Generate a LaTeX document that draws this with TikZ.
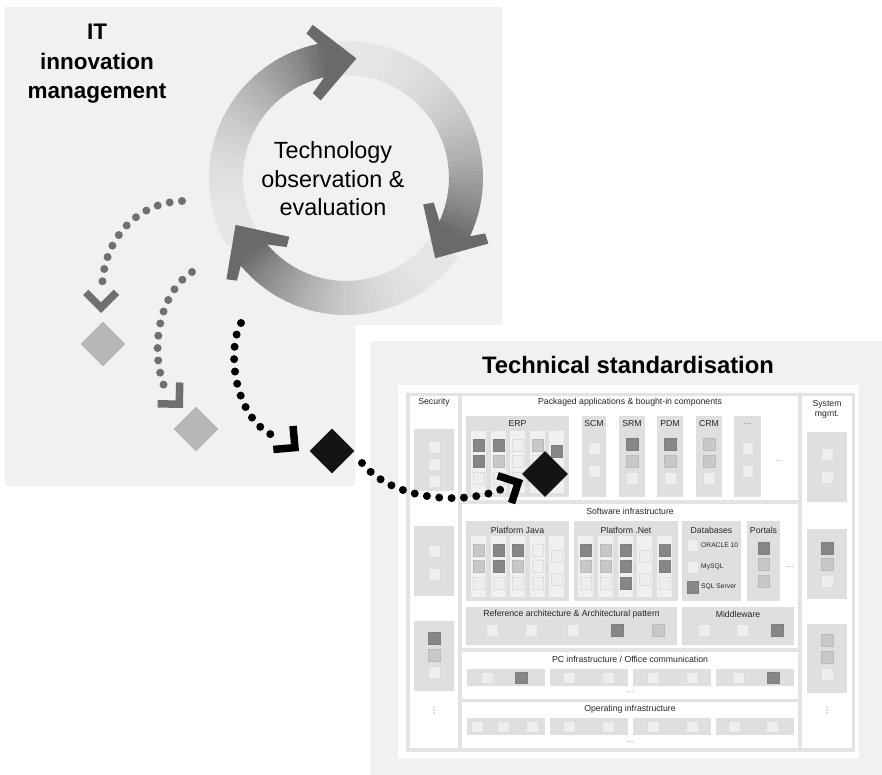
\documentclass[tikz,border=0pt]{standalone}
\usepackage{fontspec}
\setmainfont{Liberation Sans}
\usetikzlibrary{shapes.geometric}
\definecolor{panelbg}{HTML}{F1F1F1}
\definecolor{framegray}{HTML}{E3E3E3}
\definecolor{boxgray}{HTML}{DFDFDF}
\definecolor{stripgray}{HTML}{F0F0F0}
\definecolor{lt}{HTML}{EEEEEE}
\definecolor{md}{HTML}{C8C8C8}
\definecolor{dk}{HTML}{878787}
\definecolor{ringlight}{HTML}{E6E6E6}
\definecolor{ringdark}{HTML}{6A6A6A}
\definecolor{dotgray}{HTML}{707070}
\definecolor{diagray}{HTML}{B7B7B7}

\begin{document}
\begin{tikzpicture}[x=1pt, y=-1pt,
    lbl/.style={font=\fontsize{8.7}{10}\selectfont, text=black!85, inner sep=0pt, align=center},
    dblbl/.style={font=\fontsize{6.7}{8}\selectfont, text=black!85, inner sep=0pt, anchor=west},
    ellip/.style={font=\fontsize{7}{8}\selectfont, text=black!55, inner sep=0pt},
    sq/.style={rectangle, minimum size=11.5pt, inner sep=0pt},
    sqx/.style={sq, fill=#1, draw=#1!93!black, line width=0.5pt},
    box/.style={fill=boxgray},
    strip/.style={fill=stripgray},
    cell/.style={fill=white},
    dotline/.style={line width=8pt, line cap=round, dash pattern=on 0pt off 12.4pt},
    gem/.style={diamond, minimum size=45pt, inner sep=0pt},
    pics/chev/.style args={#1/#2/#3}{code={
      \fill[#3] (0,0) -- (-#1,#1) -- ({-#1-0.7071*#2},{#1-0.7071*#2}) -- ({-1.4142*#2},0)
        -- ({-#1-0.7071*#2},{-#1+0.7071*#2}) -- (-#1,-#1) -- cycle;}},
    pics/ringtip/.style={code={
      \fill[#1] (0,0) -- (-40,38) -- (-47,30) -- (-31,12) -- (-31,-12) -- (-47,-30) -- (-40,-38) -- cycle;}}
  ]
  \useasboundingbox (0,0) rectangle (882,775);
  \fill[white] (0,0) rectangle (882,775);

  % panels
  \fill[panelbg] (5,7) rectangle (502,486);
  \fill[white] (355,325) rectangle (882,775);
  \fill[panelbg] (371,341) rectangle (882,775);
  \fill[white] (398,385) rectangle (859,758);
  \fill[framegray] (406,393) rectangle (855,752);
  \foreach \xa/\ya/\xb/\yb in {410/396/458/748, 462/396/798/500, 462/504/798/648,
      462/652/798/699, 462/702/798/748, 802/396/852/748}
    \fill[cell] (\xa,\ya) rectangle (\xb,\yb);

  \node[font=\fontsize{22.5}{29.5}\selectfont\bfseries, align=center, inner sep=0pt] (itm) at (97,64) {IT\\innovation\\management};
  \node[font=\fontsize{23.4}{28.5}\selectfont, align=center, inner sep=0pt] (tobs) at (333,179) {Technology\\observation \&\\evaluation};
  \node[font=\fontsize{23.8}{28}\selectfont\bfseries, anchor=base, inner sep=0pt] (tstd) at (628,373) {Technical standardisation};

  \node[lbl] (sec) at (434,402) {Security};
  \node[lbl] (pkg) at (630,402) {Packaged applications \& bought-in components};
  \node[lbl] (sysm) at (827,409) {System\\mgmt.};
  \node[lbl] (swi) at (630,511) {Software infrastructure};
  \node[lbl] (pci) at (630,659) {PC infrastructure / Office communication};
  \node[lbl] (opi) at (630,709) {Operating infrastructure};

  % side columns
  \foreach \xa/\ya/\yb in {414/429/491, 414/526/596, 414/621/691, 807/432/502, 807/529/599, 807/624/693}
    \fill[box] (\xa,\ya) rectangle (\xa+40,\yb);
  \foreach \x/\y/\s [count=\n] in {434/447/lt, 434/464/lt, 434/481/lt, 434/551/lt, 434/574/lt,
      434/638/dk, 434/655/md, 434/672/lt, 827/454/lt, 827/477/lt, 827/548/dk, 827/564/md,
      827/581/lt, 827/640/md, 827/657/md, 827/674/lt}
    \node[sqx=\s] (side\n) at (\x,\y) {};
  \foreach \x in {434,827}
    \foreach \dy in {-3,0,3}
      \fill[black!55] (\x,710+\dy) circle (0.6);

  % packaged applications
  \fill[box] (466,416) rectangle (569,497);
  \node[lbl] (erp) at (517.5,424) {ERP};
  \foreach \x in {471,491,510,530,549}
    \fill[strip] (\x,431) rectangle ++(15,62);
  \foreach \x/\a/\b/\c [count=\n] in {478.5/dk/dk/lt, 498.5/dk/md/lt, 517.5/lt/lt/lt, 537.5/md/lt/lt} {
    \node[sqx=\a] (erpa\n) at (\x,445) {};
    \node[sqx=\b] (erpb\n) at (\x,461) {};
    \node[sqx=\c] (erpc\n) at (\x,478) {};
  }
  \node[sqx=dk] (erpa5) at (556.5,451) {};
  \node[sqx=lt] (erpb5) at (556.5,474) {};
  \foreach \xa/\xb/\t [count=\n] in {582/606/SCM, 619/645/SRM, 657/683/PDM, 696/722/CRM, 734/761/{\textcolor{black!55}{\ldots}}} {
    \fill[box] (\xa,416) rectangle (\xb,497);
    \node[lbl] (app\n) at ({(\xa+\xb)/2},424) {\t};
  }
  \foreach \x/\y/\s [count=\n] in {594/448/lt, 594/471/lt, 632/444/dk, 632/461/md, 632/478/lt,
      670/444/dk, 670/461/md, 670/478/lt, 709/444/md, 709/461/md, 709/478/lt, 747.5/448/lt, 747.5/471/lt}
    \node[sqx=\s] (appsq\n) at (\x,\y) {};
  \node[ellip] (appmore) at (779,461) {\ldots};

  % software infrastructure
  \fill[box] (466,521) rectangle (569,601);
  \node[lbl] (pjava) at (517.5,530) {Platform Java};
  \fill[box] (574,521) rectangle (678,601);
  \node[lbl] (pnet) at (626,530) {Platform .Net};
  \fill[box] (682,521) rectangle (741,601);
  \node[lbl] (dbs) at (711.5,530) {Databases};
  \fill[box] (747,521) rectangle (780,601);
  \node[lbl] (ptl) at (763.5,530) {Portals};
  \foreach \x in {471,491,510,530,549,578,598,618,637,657}
    \fill[strip] (\x,536) rectangle ++(15,61);
  \foreach \x/\a/\b/\c [count=\n] in {478.5/md/md/lt, 498.5/dk/dk/lt, 517.5/dk/md/lt, 537.5/lt/lt/lt,
      585.5/dk/md/lt, 605.5/md/md/lt, 625.5/dk/dk/dk, 664.5/dk/dk/lt} {
    \node[sqx=\a] (pfa\n) at (\x,550) {};
    \node[sqx=\b] (pfb\n) at (\x,566) {};
    \node[sqx=\c] (pfc\n) at (\x,583) {};
  }
  \foreach \x [count=\n] in {556.5,644.5} {
    \node[sqx=lt] (pfo\n) at (\x,556) {};
    \node[sqx=lt] (pfp\n) at (\x,579) {};
  }
  \node[sqx=lt] (ora) at (692.5,545) {};
  \node[dblbl] (oral) at (701,545) {ORACLE 10};
  \node[sqx=lt] (mys) at (692.5,567) {};
  \node[dblbl] (mysl) at (701,567) {MySQL};
  \node[sqx=dk] (sqs) at (692.5,587) {};
  \node[dblbl] (sqsl) at (701,587) {SQL Server};
  \foreach \y/\s [count=\n] in {548/dk, 564/md, 581/md}
    \node[sqx=\s] (ptlsq\n) at (763.5,\y) {};
  \node[ellip] (swmore) at (790,567) {\ldots};
  \fill[box] (466,607) rectangle (677,645);
  \node[lbl] (refa) at (571.5,614) {Reference architecture \& Architectural pattern};
  \fill[box] (682,607) rectangle (794,645);
  \node[lbl] (mdw) at (738,614) {Middleware};
  \foreach \x/\s [count=\n] in {492/lt, 531/lt, 573/lt, 617/dk, 658/md, 704/lt, 742/lt, 777/dk}
    \node[sqx=\s] (refsq\n) at (\x,630) {};

  % pc and operating infrastructure
  \foreach \xa in {467,550,633,716} {
    \fill[box] (\xa,669) rectangle ++(78,17);
    \fill[box] (\xa,718) rectangle ++(78,17);
  }
  \foreach \x/\s [count=\n] in {487/lt, 521/dk, 569/lt, 608/lt, 653/lt, 692/lt, 738/lt, 773/dk}
    \node[sqx=\s] (pcsq\n) at (\x,677.5) {};
  \foreach \x [count=\n] in {477, 503, 532, 569, 608, 653, 692, 734, 772}
    \node[sqx=lt] (opsq\n) at (\x,726.5) {};
  \node[ellip] (pcmore) at (630,692) {\ldots};
  \node[ellip] (opmore) at (630,742) {\ldots};

  % cycle
  \begin{scope}[shift={(346,178)}, yscale=-1]
    \foreach \s/\e in {210/100, 93/-27, -35/-142} {
      \foreach \i in {0,...,39} {
        \pgfmathtruncatemacro\mixp{100*((\i+0.5)/40)^2.2}
        \pgfmathsetmacro\angA{\s+(\e-\s)*\i/40}
        \pgfmathsetmacro\angB{\s+(\e-\s)*(\i+1.2)/40}
        \draw[line width=34pt, color=ringdark!\mixp!ringlight] (\angA:120) arc[start angle=\angA, end angle=\angB, radius=120];
      }
    }
    \foreach \t [count=\k] in {85,-42,203}
      \pic[rotate=\t-79] (ringhead\k) at (\t:120) {ringtip=ringdark};
  \end{scope}

  % adoption paths
  \coordinate (sA) at (182,201);
  \coordinate (eA) at (102,291);
  \coordinate (sB) at (192,272);
  \coordinate (eB) at (166,391);
  \coordinate (sC) at (241,323);
  \coordinate (eC) at (279,438);
  \coordinate (sD) at (362,463);
  \coordinate (eD) at (502,489);
  \draw[dotline, draw=dotgray] (sA) .. controls +(-47,2) and +(0,-50) .. (eA);
  \draw[dotline, draw=dotgray] (sB) .. controls +(-32,20) and +(-18,-41) .. (eB);
  \draw[dotline, draw=black] (sC) .. controls +(-15,27) and +(-45,-15) .. (eC);
  \draw[dotline, draw=black] (sD) .. controls +(30,37) and +(-40,17) .. (eD);
  \pic[rotate=-90] (headA) at (101,313) {chev=18/7.5/dotgray};
  \pic[rotate=-46] (headB) at (183,408) {chev=18/7.5/dotgray};
  \pic[rotate=-40] (headC) at (299,451) {chev=18/7.5/black};
  \pic[rotate=27] (headD) at (523,480) {chev=18/7.5/black};
  \node[gem, fill=diagray] (dA) at (103,344) {};
  \node[gem, fill=diagray] (dB) at (196,429) {};
  \node[gem, fill=black!92] (dC) at (332,451) {};
  \node[gem, fill=black!92, minimum size=46pt] (dD) at (545,474) {};
\end{tikzpicture}
\end{document}
